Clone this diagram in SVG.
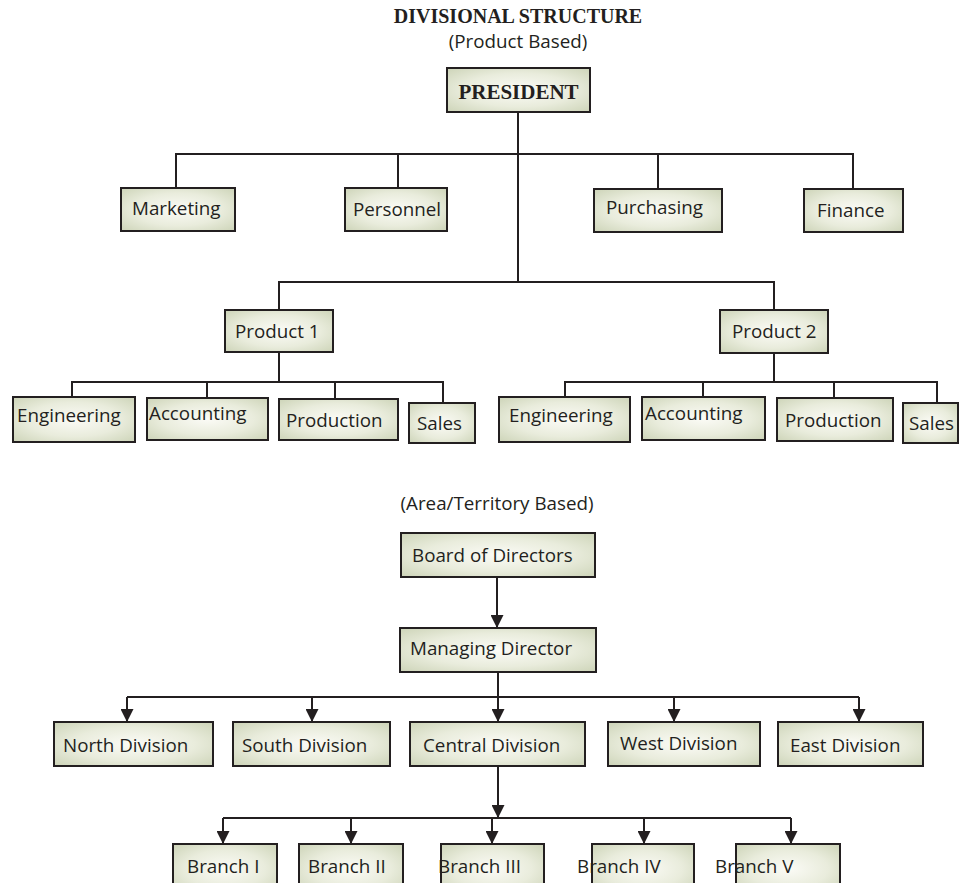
<svg xmlns="http://www.w3.org/2000/svg" width="974" height="883" viewBox="0 0 974 883">
  <defs>
    <radialGradient id="boxFill" cx="0.5" cy="0.5" r="0.7">
      <stop offset="0" stop-color="#fbfbf6"/>
      <stop offset="0.55" stop-color="#e9ecdc"/>
      <stop offset="1" stop-color="#cdd4b8"/>
    </radialGradient>
    <marker id="arrow" markerUnits="userSpaceOnUse" markerWidth="13" markerHeight="13" viewBox="0 0 13 13" refX="13" refY="6.5" orient="auto">
      <path d="M0,0 L13,6.5 L0,13 z" fill="#231f20"/>
    </marker>
  </defs>
  <style>
    .box { fill: url(#boxFill); stroke: #231f20; stroke-width: 2; }
    .lbl { font-family: "Open Sans", "Liberation Sans", sans-serif; font-size: 18.8px; fill: #231f20; }
    .head { font-family: "Liberation Serif", serif; font-weight: bold; font-size: 21px; fill: #231f20; }
    .title { font-family: "Liberation Serif", serif; font-weight: bold; font-size: 20px; fill: #231f20; }
    .wire { fill: none; stroke: #231f20; stroke-width: 2; }
    .arr { fill: none; stroke: #231f20; stroke-width: 2; marker-end: url(#arrow); }
  </style>
  <rect width="974" height="883" fill="#ffffff"/>

  <!-- headings -->
  <text class="title" x="518" y="23" text-anchor="middle">DIVISIONAL STRUCTURE</text>
  <text class="lbl" x="518" y="48" text-anchor="middle">(Product Based)</text>
  <text class="lbl" x="497" y="510" text-anchor="middle">(Area/Territory Based)</text>

  <!-- connectors -->
  <g id="connectors">
    <!-- product-based tree -->
    <path class="wire" d="M518,112 V282"/>
    <path class="wire" d="M176,188 V154 H853 V189"/>
    <path class="wire" d="M398,154 V188 M658,154 V189"/>
    <path class="wire" d="M279,310 V282 H774 V310"/>
    <path class="wire" d="M279,352 V382"/>
    <path class="wire" d="M72,397 V382 H443 V403 M207,382 V398 M335,382 V399"/>
    <path class="wire" d="M774,353 V382"/>
    <path class="wire" d="M565,397 V382 H937 V403 M703,382 V397 M834,382 V398"/>
    <!-- area-based tree -->
    <path class="arr" d="M497,577 V628"/>
    <path class="wire" d="M498,672 V697 M127,697 H859"/>
    <path class="arr" d="M127,697 V722"/>
    <path class="arr" d="M312,697 V722"/>
    <path class="arr" d="M498,697 V722"/>
    <path class="arr" d="M674,697 V722"/>
    <path class="arr" d="M859,697 V722"/>
    <path class="arr" d="M498,766 V818"/>
    <path class="wire" d="M223,818 H791"/>
    <path class="arr" d="M223,818 V844"/>
    <path class="arr" d="M351,818 V844"/>
    <path class="arr" d="M492,818 V844"/>
    <path class="arr" d="M644,818 V844"/>
    <path class="arr" d="M791,818 V844"/>
  </g>

  <!-- product-based nodes -->
  <g id="president"><rect class="box" x="447" y="68" width="143" height="44"/><text class="head" x="518.5" y="99" text-anchor="middle">PRESIDENT</text></g>
  <g id="marketing"><rect class="box" x="121" y="188" width="114" height="43"/><text class="lbl" x="132" y="215">Marketing</text></g>
  <g id="personnel"><rect class="box" x="345" y="188" width="102" height="43"/><text class="lbl" x="353" y="216">Personnel</text></g>
  <g id="purchasing"><rect class="box" x="594" y="189" width="128" height="43"/><text class="lbl" x="606" y="214">Purchasing</text></g>
  <g id="finance"><rect class="box" x="804" y="189" width="99" height="43"/><text class="lbl" x="817" y="217">Finance</text></g>
  <g id="product1"><rect class="box" x="225" y="310" width="108" height="42"/><text class="lbl" x="235" y="338">Product 1</text></g>
  <g id="product2"><rect class="box" x="720" y="310" width="108" height="43"/><text class="lbl" x="732" y="338">Product 2</text></g>
  <g id="engineering1"><rect class="box" x="13" y="397" width="122" height="45"/><text class="lbl" x="17" y="422">Engineering</text></g>
  <g id="accounting1"><rect class="box" x="147" y="398" width="121" height="42"/><text class="lbl" x="149" y="420">Accounting</text></g>
  <g id="production1"><rect class="box" x="279" y="399" width="119" height="41"/><text class="lbl" x="286" y="427">Production</text></g>
  <g id="sales1"><rect class="box" x="409" y="403" width="66" height="40"/><text class="lbl" x="417" y="430">Sales</text></g>
  <g id="engineering2"><rect class="box" x="499" y="397" width="131" height="45"/><text class="lbl" x="509" y="422">Engineering</text></g>
  <g id="accounting2"><rect class="box" x="642" y="397" width="123" height="43"/><text class="lbl" x="645" y="420">Accounting</text></g>
  <g id="production2"><rect class="box" x="777" y="398" width="116" height="43"/><text class="lbl" x="785" y="427">Production</text></g>
  <g id="sales2"><rect class="box" x="903" y="403" width="55" height="40"/><text class="lbl" x="909" y="430">Sales</text></g>

  <!-- area-based nodes -->
  <g id="board"><rect class="box" x="401" y="533" width="194" height="44"/><text class="lbl" x="412" y="562">Board of Directors</text></g>
  <g id="managing"><rect class="box" x="400" y="628" width="196" height="44"/><text class="lbl" x="410" y="655">Managing Director</text></g>
  <g id="north"><rect class="box" x="54" y="722" width="159" height="44"/><text class="lbl" x="63" y="752">North Division</text></g>
  <g id="south"><rect class="box" x="233" y="722" width="157" height="44"/><text class="lbl" x="242" y="752">South Division</text></g>
  <g id="central"><rect class="box" x="410" y="722" width="175" height="44"/><text class="lbl" x="423" y="752">Central Division</text></g>
  <g id="west"><rect class="box" x="608" y="722" width="152" height="44"/><text class="lbl" x="620" y="750">West Division</text></g>
  <g id="east"><rect class="box" x="778" y="722" width="145" height="44"/><text class="lbl" x="790" y="752">East Division</text></g>
  <g id="branch1"><rect class="box" x="173" y="844" width="104" height="50"/><text class="lbl" x="187" y="873">Branch I</text></g>
  <g id="branch2"><rect class="box" x="299" y="844" width="104" height="50"/><text class="lbl" x="308" y="873">Branch II</text></g>
  <g id="branch3"><rect class="box" x="441" y="844" width="103" height="50"/><text class="lbl" x="438" y="873">Branch III</text></g>
  <g id="branch4"><rect class="box" x="592" y="844" width="102" height="50"/><text class="lbl" x="577" y="873">Branch IV</text></g>
  <g id="branch5"><rect class="box" x="736" y="844" width="104" height="50"/><text class="lbl" x="715" y="873">Branch V</text></g>
</svg>
